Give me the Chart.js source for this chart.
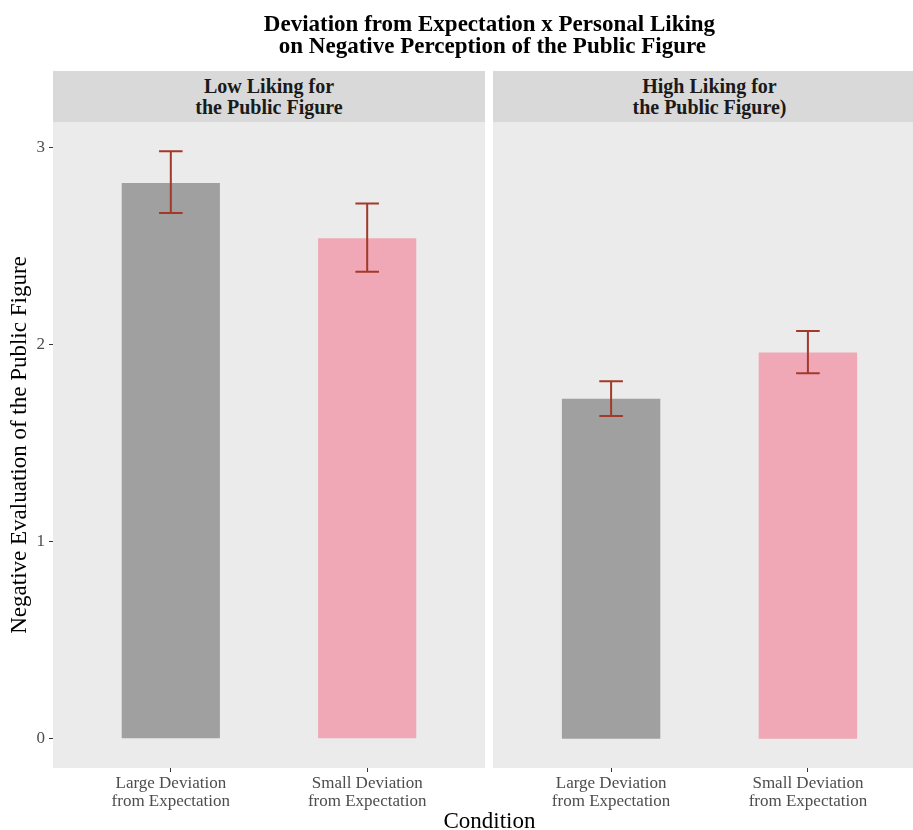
<!DOCTYPE html>
<html>
<head>
<meta charset="utf-8">
<script src="https://cdn.jsdelivr.net/npm/chart.js@4.4.1/dist/chart.umd.min.js"></script>
<style>
  html, body { margin: 0; padding: 0; width: 913px; height: 830px; overflow: hidden; background: #fff; }
  body { position: relative; font-family: "Liberation Serif", "Times New Roman", serif; color: #000; }
  canvas { position: absolute; top: 0; }
  #title { position: absolute; left: 53px; width: 873px; top: 13px; text-align: center;
           font-weight: bold; font-size: 23px; line-height: 22px; white-space: pre; }
  .strip { position: absolute; top: 71px; height: 51px; background: #D9D9D9;
           display: flex; align-items: center; justify-content: center; text-align: center;
           font-weight: bold; font-size: 20px; line-height: 21px; white-space: pre; color: #1a1a1a; }
  #xtitle { position: absolute; left: 53px; width: 873px; top: 808px; text-align: center;
            font-size: 23px; line-height: 26px; }
</style>
</head>
<body>
<canvas id="low" width="489" height="830" style="left:0"></canvas>
<canvas id="high" width="437" height="830" style="left:489px"></canvas>
<div id="title"></div>
<div class="strip" id="strip0" style="left:53px;width:432px"></div>
<div class="strip" id="strip1" style="left:493px;width:433px"></div>
<div id="xtitle"></div>
<script>
// Chart text
const chartTitle = "Deviation from Expectation x Personal Liking\n on Negative Perception of the Public Figure";
const panelLabels = ["Low Liking for\nthe Public Figure", "High Liking for\nthe Public Figure)"];
const xAxisTitle = "Condition";
const yAxisTitle = "Negative Evaluation of the Public Figure";

// Conditions on the x axis (multi-line tick labels)
const categories = [["Large Deviation", "from Expectation"], ["Small Deviation", "from Expectation"]];
const barColors = ["#A0A0A0", "#F0A8B7"];

// Low liking panel: means with lower/upper error limits
const lowMeans = [2.822, 2.542];
const lowLower = [2.670, 2.371];
const lowUpper = [2.983, 2.718];

// High liking panel
const highMeans = [1.726, 1.961];
const highLower = [1.639, 1.856];
const highUpper = [1.815, 2.070];

const yTicks = [0, 1, 2, 3];

document.getElementById('title').textContent = chartTitle;
document.getElementById('strip0').textContent = panelLabels[0];
document.getElementById('strip1').textContent = panelLabels[1];
document.getElementById('xtitle').textContent = xAxisTitle;

const serif = "'Liberation Serif', 'Times New Roman', serif";

// Grey panel background behind the plot area
const panelBg = {
  id: 'panelBg',
  beforeDraw(chart) {
    const { ctx, chartArea: a } = chart;
    ctx.save();
    ctx.fillStyle = '#EBEBEB';
    ctx.fillRect(a.left, a.top, a.right - a.left, a.bottom - a.top);
    ctx.restore();
  }
};

// Error bars drawn through the chart's own scales
const errorBars = {
  id: 'errorBars',
  afterDatasetsDraw(chart, args, opts) {
    const { ctx, scales: { x, y } } = chart;
    const pts = chart.data.datasets[0].data;
    ctx.save();
    ctx.strokeStyle = opts.color;
    ctx.lineWidth = opts.width;
    pts.forEach((pt, i) => {
      const cx = x.getPixelForValue(pt.x);
      const half = x.getPixelForValue(pt.x + opts.capHalf) - cx;
      const top = y.getPixelForValue(opts.upper[i]);
      const bot = y.getPixelForValue(opts.lower[i]);
      ctx.beginPath();
      ctx.moveTo(cx, top); ctx.lineTo(cx, bot);
      ctx.moveTo(cx - half, top); ctx.lineTo(cx + half, top);
      ctx.moveTo(cx - half, bot); ctx.lineTo(cx + half, bot);
      ctx.stroke();
    });
    ctx.restore();
  }
};

function makePanel(id, means, lower, upper, showY, padding) {
  return new Chart(document.getElementById(id), {
    type: 'bar',
    data: {
      datasets: [{
        data: means.map((v, i) => ({ x: i + 1, y: v })),
        backgroundColor: barColors,
        borderWidth: 0,
        barPercentage: 0.5,
        categoryPercentage: 1.0
      }]
    },
    options: {
      responsive: false,
      animation: false,
      devicePixelRatio: 1,
      layout: { padding },
      plugins: {
        legend: { display: false },
        tooltip: { enabled: false },
        errorBars: { lower, upper, color: '#A23A2A', width: 2, capHalf: 0.06 }
      },
      scales: {
        x: {
          type: 'linear',
          offset: false,
          min: 0.4,
          max: 2.6,
          afterBuildTicks: s => { s.ticks = [{ value: 1 }, { value: 2 }]; },
          afterFit: s => { s.height = 62; },
          border: { display: false },
          grid: { offset: false, drawOnChartArea: false, drawTicks: true, tickLength: 4, color: '#333333', lineWidth: 1 },
          ticks: {
            autoSkip: false,
            maxRotation: 0,
            padding: 2,
            color: '#4D4D4D',
            font: { family: serif, size: 17, lineHeight: 1.08 },
            callback: v => categories[v - 1]
          }
        },
        y: {
          display: showY,
          min: -0.149,
          max: 3.132,
          afterBuildTicks: s => { s.ticks = yTicks.map(v => ({ value: v })); },
          afterFit: s => { if (showY) s.width = 53; },
          border: { display: false },
          grid: { drawOnChartArea: false, drawTicks: true, tickLength: 4, color: '#333333', lineWidth: 1 },
          ticks: {
            padding: 4,
            color: '#4D4D4D',
            font: { family: serif, size: 17 }
          },
          title: {
            display: true,
            text: yAxisTitle,
            color: '#000',
            font: { family: serif, size: 23 },
            padding: { top: 6, bottom: 0 }
          }
        }
      }
    },
    plugins: [panelBg, errorBars]
  });
}

makePanel('low', lowMeans, lowLower, lowUpper, true, { top: 122, right: 4, bottom: 0, left: 0 });
makePanel('high', highMeans, highLower, highUpper, false, { top: 122, right: 0, bottom: 0, left: 4 });
</script>
</body>
</html>
